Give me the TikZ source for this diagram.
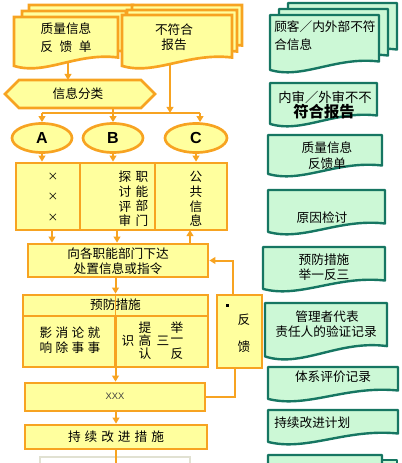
\documentclass[tikz,border=0pt]{standalone}
\usepackage{fontspec}
\setmainfont{Noto Sans CJK SC}
\newfontfamily\latf{Liberation Sans}
\usetikzlibrary{arrows.meta,shapes.geometric}
\definecolor{org}{RGB}{247,163,33}
\definecolor{yel}{RGB}{255,255,158}
\definecolor{tealc}{RGB}{22,118,98}
\definecolor{grn}{RGB}{204,248,214}
\definecolor{faint}{RGB}{225,225,210}
\newcommand\docpath[5]{(#1,#2) -- (#3,#2) -- (#3,{#4-3*#5}) .. controls ({#1+0.6*(#3-#1)},{#4-4.5*#5}) and ({#1+0.3*(#3-#1)},{#4+2.2*#5}) .. (#1,{#4-0.6*#5}) -- cycle}
\begin{document}
\begin{tikzpicture}[x=0.75pt,y=-0.75pt,
 ob/.style={draw=org,line width=2pt,fill=yel},
 tb/.style={draw=tealc,line width=1.8pt,fill=grn,line join=round},
 ln/.style={draw=org,line width=1.5pt},
 arr/.style={ln,-{Triangle[length=4.5pt,width=5pt]}},
 tx/.style={font=\fontsize{9.5pt}{11pt}\selectfont,inner sep=0pt,align=center},
 bx/.style={ob,rectangle,inner sep=0pt},
 el/.style={ob,ellipse,inner sep=0pt,minimum height=21.75pt,font=\latf\bfseries\fontsize{12pt}{12pt}\selectfont},
]
\useasboundingbox (0,0) rectangle (402,463);
\clip (0,0) rectangle (402,463);

% ---------- left documents ----------
\draw[ob] \docpath{29}{5}{133}{56}{3.5};
\draw[ob] \docpath{22}{11}{126}{62}{3.5};
\draw[ob] \docpath{14}{17}{118}{68}{3.5};
\draw[ob] \docpath{132}{5}{242}{56}{3.5};
\draw[ob] \docpath{127}{10}{237}{62}{3.5};
\draw[ob] \docpath{122}{15}{232}{68}{3.5};
\node[tx] (l1a) at (66,29) {质量信息};
\node[tx] (l1b) at (66,47) {反\hspace{5pt}馈\hspace{5pt}单};
\node[tx] (l2a) at (174,30) {不符合};
\node[tx] (l2b) at (174,45) {报告};

% ---------- hexagon ----------
\draw[ob] (5,94) -- (19,80) -- (141,80) -- (155,94) -- (141,108) -- (19,108) -- cycle;
\node[tx] (hex) at (78,94) {信息分类};
\coordinate (l1s) at (68,63);
\coordinate (hexN) at (68,80);
\coordinate (hexS) at (113,108);
\coordinate (l2s) at (170,63);
\coordinate (busL) at (42,113);
\coordinate (busR) at (200,113);

% ---------- ellipses ----------
\node[el,minimum width=45pt] (A) at (42,138) {A};
\node[el,minimum width=45pt] (B) at (113,138) {B};
\node[el,minimum width=46.5pt] (C) at (196,138) {C};

% ---------- three column box ----------
\node[bx,minimum width=158.25pt,minimum height=50.25pt] (tri) at (121.5,196.5) {};
\draw[draw=org,line width=2pt] (80,163) -- (80,230);
\draw[draw=org,line width=2pt] (155,163) -- (155,230);
\node[tx,font=\fontsize{8pt}{15.5pt}\selectfont] (xs) at (53,197) {×\\×\\×};
\node[tx,font=\fontsize{9.5pt}{11pt}\selectfont] (tt) at (125,199) {探\\讨\\评\\审};
\node[tx,font=\fontsize{9.5pt}{11pt}\selectfont] (zn) at (142,199) {职\\能\\部\\门};
\node[tx,font=\fontsize{9.5pt}{11pt}\selectfont] (gg) at (196,199) {公\\共\\信\\息};

% ---------- command box ----------
\node[bx,minimum width=135pt,minimum height=24.75pt] (cmd) at (118,260.5) {};
\node[tx] (cmd1) at (118,254) {向各职能部门下达};
\node[tx] (cmd2) at (118,269) {处置信息或指令};

% ---------- prevention box ----------
\node[bx,minimum width=138.75pt,minimum height=15.75pt] (prevh) at (115.5,305.5) {};
\node[bx,minimum width=138.75pt,minimum height=38.25pt] (prevb) at (115.5,341.5) {};
\draw[draw=org,line width=1pt] (prevh.north) -- (prevh.south);
\draw[draw=org,line width=2pt] (prevb.north) -- (prevb.south);
\node[tx] (ph) at (115.5,305) {预防措施};
\node[tx] (pl1) at (70,333) {影\hspace{2.5pt}消\hspace{2.5pt}论\hspace{2.5pt}就};
\node[tx] (pl2) at (70,348) {响\hspace{2.5pt}除\hspace{2.5pt}事\hspace{2.5pt}事};
\node[tx] (c1) at (145,328) {提};
\node[tx] (c2) at (145,341) {高};
\node[tx] (c3) at (145,354) {认};
\node[tx] (c4) at (128,341) {识};
\node[tx] (c5) at (163,341) {三};
\node[tx] (c6) at (177,328) {举};
\node[tx] (c7) at (177,341) {一};
\node[tx] (c8) at (177,354) {反};

% ---------- feedback box ----------
\node[bx,minimum width=33.75pt,minimum height=54.75pt] (fb) at (239.5,331.5) {};
\fill[black] (226,304) rectangle (228.5,306.5);
\node[tx] (fb1) at (244,320) {反};
\node[tx] (fb2) at (244,347) {馈};
\coordinate (fbT) at (233,295);
\coordinate (fbB) at (235,368);

% ---------- XXX and continuous improvement ----------
\node[bx,minimum width=135pt,minimum height=21pt] (xxx) at (115,397) {};
\node[tx,font=\latf\fontsize{7pt}{8pt}\selectfont,text=black!75] (xt) at (115,396) {XXX};
\node[bx,minimum width=136.5pt,minimum height=18pt] (cont) at (116,437) {};
\node[tx] (ct) at (116,437) {持\hspace{3pt}续\hspace{3pt}改\hspace{3pt}进\hspace{3pt}措\hspace{3pt}施};
\draw[draw=faint,line width=1pt] (40,457) rectangle (190,475);

% ---------- connectors ----------
\draw[arr] (l1s) -- (hexN);
\draw[ln] (busL) -- (busR);
\draw[ln] (hexS) -- (hexS |- busL);
\draw[arr] (l2s) -- (l2s |- busL);
\draw[arr] (busL) -- (A.north);
\draw[arr] (hexS |- busL) -- (B.north);
\draw[arr] (busR) -- (busR |- C.north);
\draw[arr] (A.south) -- (A.south |- tri.north);
\draw[arr] (B.south) -- (B.south |- tri.north);
\draw[arr] (C.south) -- (C.south |- tri.north);
\coordinate (t1) at (52,230);
\coordinate (t2) at (117,230);
\coordinate (t3) at (190,230);
\draw[arr] (t1) -- (t1 |- cmd.north);
\draw[arr] (t2) -- (t2 |- cmd.north);
\draw[arr] (t3 |- cmd.north) -- (t3);
\draw[arr] (cmd.south -| prevh.north) -- (prevh.north);
\draw[arr] (fbT) |- (cmd.east);
\draw[arr] (prevb.south) -- (prevb.south |- xxx.north);
\draw[ln] (fbB) |- (xxx.east);
\draw[arr] (xxx.south -| cont.north) -- (cont.north);
\draw[ln] (cont.south) -- ++(0,20);

% ---------- right documents ----------
\draw[tb] \docpath{288}{3}{397}{60}{3.5};
\draw[tb] \docpath{279}{9}{388}{66}{3.5};
\draw[tb] \docpath{270}{15}{379}{72}{3.5};
\node[tx,anchor=west] (r1a) at (274,27) {顾客／内外部不符};
\node[tx,anchor=west] (r1b) at (274,45) {合信息};

\draw[tb] \docpath{270}{83}{377}{126}{3.5};
\node[tx,font=\fontsize{10pt}{11pt}\selectfont] (r2a) at (325,97) {内审／外审不不};
\node[tx,font=\bfseries\fontsize{11.5pt}{12pt}\selectfont] (r2b) at (324,112) {符合报告};

\draw[tb] \docpath{268}{135}{382}{176}{3.5};
\node[tx] (r3a) at (327,148) {质量信息};
\node[tx] (r3b) at (327,164) {反馈单};

\draw[tb] \docpath{268}{190}{385}{234}{3.5};
\node[tx] (r4) at (322,218) {原因检讨};

\draw[tb] \docpath{263}{247}{385}{291}{3.5};
\node[tx] (r5a) at (324,260) {预防措施};
\node[tx] (r5b) at (324,275) {举一反三};

\draw[tb] \docpath{265}{303}{387}{359}{4.3};
\node[tx] (r6a) at (327,317) {管理者代表};
\node[tx] (r6b) at (326,332) {责任人的验证记录};

\draw[tb] \docpath{268}{367}{398}{401}{3.5};
\node[tx] (r7) at (333,377) {体系评价记录};

\draw[tb] \docpath{268}{410}{398}{444}{3.5};
\node[tx,anchor=west] (r8) at (274,423) {持续改进计划};

\draw[tb] (380,460) -- (397,460) -- (397,480);
\draw[tb] \docpath{268}{455}{382}{490}{3.5};
\end{tikzpicture}
\end{document}
